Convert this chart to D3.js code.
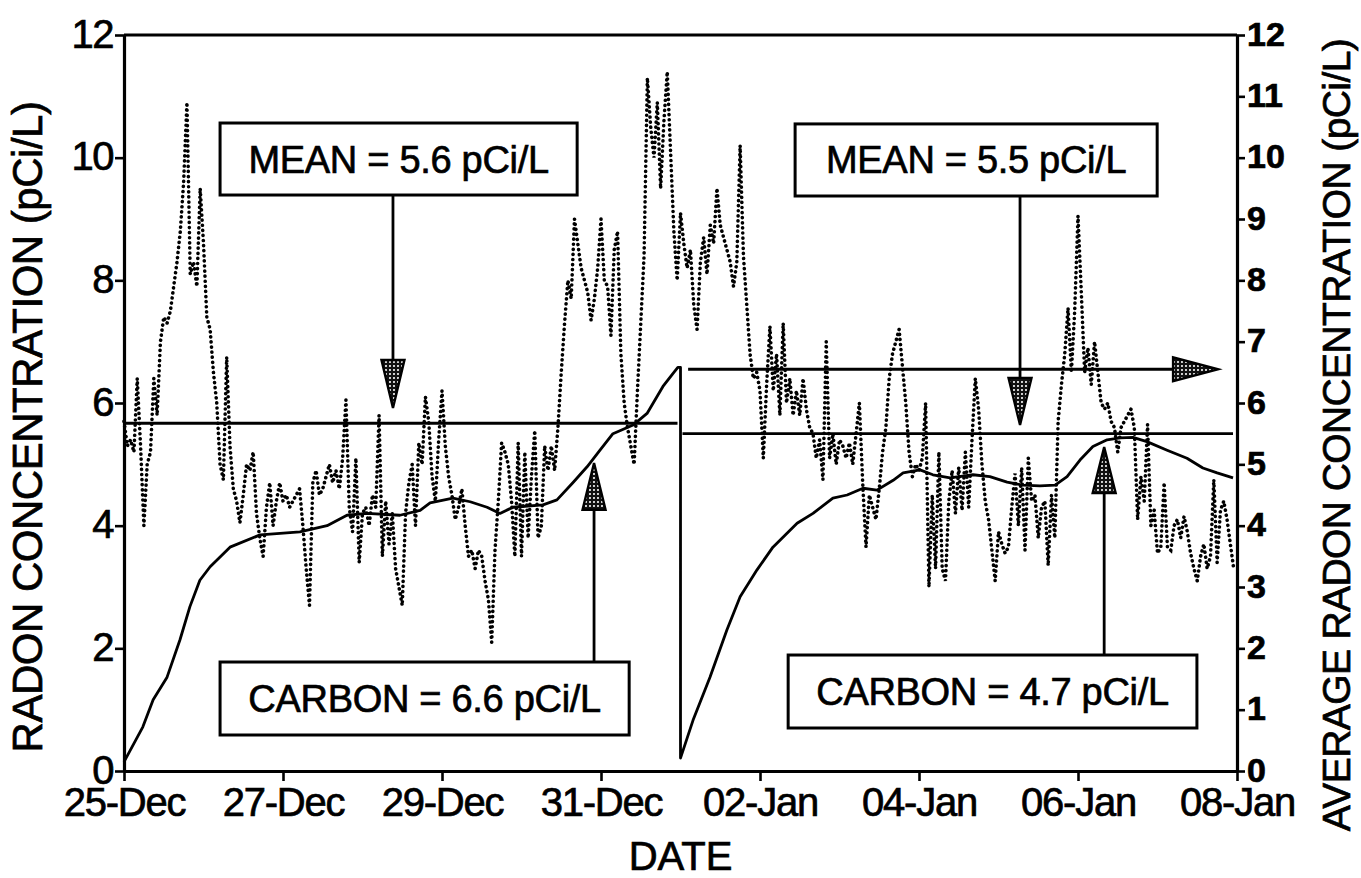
<!DOCTYPE html>
<html><head><meta charset="utf-8">
<script src="https://cdn.jsdelivr.net/npm/d3@7"></script>
<style>
body{margin:0;background:#fff;}
svg{display:block;}
text{font-family:"Liberation Sans",Arial,Helvetica,sans-serif;fill:#000;stroke:#000;stroke-width:0.7px;}
</style></head><body>
<svg id="c" width="1361" height="878"></svg>
<script>
// ---- data ----
const tickHours = [0,48,96,144,192,240,288,336];
const tickLabels = ["25-Dec","27-Dec","29-Dec","31-Dec","02-Jan","04-Jan","06-Jan","08-Jan"];
const leftTicks = [0,2,4,6,8,10,12];
const rightTicks = [0,1,2,3,4,5,6,7,8,9,10,11,12];

// hourly radon readings (pCi/L), starting 25-Dec 00:00
const radon = [
 5.7,5.3,5.4,5.2,6.4,5.3,4.0,5.0,5.2,6.4,5.8,7.0,7.4,7.3,7.5,7.9,8.3,8.8,9.6,10.9,8.1,8.3,7.9,9.5,
 8.6,7.4,7.2,6.5,6.0,5.0,4.75,6.75,5.3,4.6,4.4,4.05,4.5,5.0,4.9,5.2,4.2,3.8,3.5,4.3,4.7,4.0,4.4,4.7,
 4.4,4.5,4.3,4.4,4.5,4.6,4.0,3.3,2.7,4.7,4.9,4.5,4.6,4.8,5.0,4.7,4.9,4.6,5.1,6.05,4.3,3.9,5.1,3.4,
 4.2,4.3,4.0,4.5,4.3,5.8,3.5,4.4,3.7,4.2,3.3,3.0,2.7,4.2,4.7,5.0,4.0,5.35,5.0,6.1,5.7,4.8,4.4,5.4,
 6.2,5.3,4.8,4.5,4.1,4.3,4.6,4.0,3.5,3.6,3.3,3.6,3.5,3.1,2.8,2.1,3.6,4.4,5.35,5.2,5.0,4.4,3.5,5.35,
 3.5,5.2,3.8,4.8,5.55,3.8,4.0,5.3,4.9,5.3,4.9,5.6,6.5,7.3,8.0,7.7,9.0,8.6,8.2,8.0,7.8,7.35,7.7,8.2,
 9.0,8.0,7.9,7.1,8.5,8.8,6.8,6.0,5.6,5.3,5.0,6.2,7.3,8.4,11.3,10.5,10.0,10.9,9.5,10.6,11.4,10.1,8.8,8.0,
 9.1,8.6,8.2,8.5,7.6,7.2,8.3,8.7,8.1,8.9,8.6,9.5,8.9,8.7,8.5,8.3,7.9,8.3,10.2,8.4,7.6,6.8,6.4,6.5,
 6.2,5.1,6.3,7.25,6.2,6.8,5.8,7.3,6.0,6.4,5.8,6.2,5.8,6.4,5.9,5.6,5.5,5.1,5.4,4.75,7.0,5.1,5.5,5.0,
 5.4,5.3,5.1,5.35,5.0,5.5,6.0,4.7,3.65,4.5,4.3,4.1,4.6,5.2,5.6,6.4,6.8,7.0,7.2,6.6,6.0,5.2,4.8,5.0,
 4.9,5.1,6.0,3.0,4.5,3.3,5.2,3.3,3.1,4.4,4.9,4.2,4.95,4.25,5.2,4.3,5.4,6.4,5.9,5.0,4.4,4.1,3.6,3.1,
 3.9,3.7,3.55,3.65,4.3,4.85,4.0,4.95,3.6,5.1,4.4,4.5,3.8,4.3,4.4,3.35,4.5,3.8,5.7,6.3,6.8,7.55,6.5,7.5,
 9.05,7.8,6.5,6.9,6.3,7.0,6.5,6.0,5.9,6.0,5.7,5.6,5.2,5.6,5.7,5.8,5.9,5.6,4.1,4.8,4.4,5.65,4.0,4.25,
 3.55,3.65,4.7,3.65,3.6,4.0,4.1,3.8,4.15,3.9,3.55,3.3,3.1,3.5,3.7,3.3,3.5,4.75,3.4,4.25,4.4,4.1,3.7,3.3
];

// running average (pCi/L); reset on 01-Jan
const avgHours = [0,5.7,8.8,13,16.9,19.9,22.9,26,32,41.1,53.1,61.3,67.3,73.4,83.3,89.4,92.4,99.3,104.5,109.6,113.5,117.4,126.5,130.7,135.5,139.8,143.7,147.6,153.7,157.9,162.7,165.7,167.2,168,
 168,171.8,176.9,182,186,191.1,195.9,203.2,208,214,218.3,223.1,227.3,232.2,235.2,240.3,244.2,249.4,256.3,261.4,266.6,271.4,276.5,281.1,284.7,288.6,292.5,296.8,300.7,304.6,308.8,314.9,320.9,325.7,330,334.8];
const avgValues = [0.15,0.72,1.16,1.53,2.14,2.68,3.11,3.33,3.65,3.85,3.9,4.0,4.17,4.2,4.17,4.25,4.37,4.45,4.39,4.3,4.2,4.3,4.34,4.42,4.7,4.96,5.23,5.5,5.64,5.83,6.27,6.48,6.58,6.58,
 0.21,0.83,1.53,2.3,2.84,3.28,3.65,4.04,4.2,4.45,4.5,4.61,4.58,4.74,4.86,4.91,4.83,4.78,4.83,4.8,4.71,4.66,4.65,4.66,4.8,5.07,5.29,5.4,5.43,5.44,5.37,5.23,5.1,4.94,4.86,4.78];

// period means
const meanStart = [0,168];
const meanEnd = [168,336];
const meanValue = [5.67,5.5];

// annotation labels
const noteText = ["MEAN = 5.6 pCi/L","MEAN = 5.5 pCi/L","CARBON = 6.6 pCi/L","CARBON = 4.7 pCi/L"];

// ---- layout ----
const svg = d3.select("#c");
const x = d3.scaleLinear().domain([0,336]).range([124,1237]);
const y = d3.scaleLinear().domain([0,12]).range([771,35]);
const FONT = '"Liberation Sans",Arial,Helvetica,sans-serif';

const defs = svg.append("defs");
const pat = defs.append("pattern").attr("id","stip").attr("width",4).attr("height",4).attr("patternUnits","userSpaceOnUse");
pat.append("rect").attr("width",4).attr("height",4).attr("fill","#111");
pat.append("circle").attr("cx",2).attr("cy",2).attr("r",1.05).attr("fill","#fff");

// running average
const avgPts = avgHours.map((h,i)=>[h,avgValues[i]]);
svg.append("path").datum(avgPts)
 .attr("d", d3.line().x(d=>x(d[0])).y(d=>y(d[1])))
 .attr("fill","none").attr("stroke","#000").attr("stroke-width",2.8).attr("stroke-linejoin","round");

// hourly radon (dotted)
svg.append("path").datum(radon)
 .attr("d", d3.line().x((d,i)=>x(i)).y(d=>y(d)))
 .attr("fill","none").attr("stroke","#000").attr("stroke-width",3.6)
 .attr("stroke-linecap","round").attr("stroke-dasharray","0.1 5");

// mean lines
meanValue.forEach((v,i)=>{
  svg.append("line").attr("x1",x(meanStart[i])+(i?2:0)).attr("x2",x(meanEnd[i])-(i?4:3))
   .attr("y1",y(v)).attr("y2",y(v)).attr("stroke","#000").attr("stroke-width",2.8);
});

// axes
function styleAxis(g, fs, extra){
  g.attr("font-family",null).attr("font-size",null);
  g.select(".domain").attr("stroke-width",3.2);
  g.selectAll(".tick line").attr("stroke-width",2.6);
  g.selectAll(".tick text").attr("font-family",FONT).attr("font-size",fs).attr("fill","#000");
  if(extra) extra(g.selectAll(".tick text"));
}
svg.append("line").attr("x1",x(0)).attr("x2",x(336)).attr("y1",y(12)).attr("y2",y(12))
  .attr("stroke","#000").attr("stroke-width",3.2);

const gx = svg.append("g").attr("transform",`translate(0,${y(0)})`)
 .call(d3.axisBottom(x).tickValues(tickHours).tickFormat((d,i)=>tickLabels[i]).tickSize(10).tickSizeOuter(0).tickPadding(7));
styleAxis(gx, 40, t=>t.attr("letter-spacing",-1.2));

const gl = svg.append("g").attr("transform",`translate(${x(0)},0)`)
 .call(d3.axisLeft(y).tickValues(leftTicks).tickFormat(d3.format("d")).tickSize(9).tickSizeOuter(0).tickPadding(2));
styleAxis(gl, 40, t=>t.attr("letter-spacing",-1.5).attr("dy","0.3em"));

const gr = svg.append("g").attr("transform",`translate(${x(336)},0)`)
 .call(d3.axisRight(y).tickValues(rightTicks).tickFormat(d3.format("d")).tickSize(8).tickSizeOuter(0).tickPadding(2));
styleAxis(gr, 34, t=>t.attr("font-weight","bold").attr("dy","0.3em"));

// axis titles
svg.append("text").attr("transform",`translate(42,${(y(0)+y(12))/2+24}) rotate(-90)`)
 .attr("text-anchor","middle").attr("font-size",42).attr("letter-spacing",-0.5).text("RADON CONCENTRATION (pCi/L)");
svg.append("text").attr("transform",`translate(1350,${(y(0)+y(12))/2+32}) rotate(-90)`)
 .attr("text-anchor","middle").attr("font-size",39).attr("letter-spacing",-0.6).text("AVERAGE RADON CONCENTRATION (pCi/L)");
svg.append("text").attr("x",(x(0)+x(336))/2-0).attr("y",870).attr("text-anchor","middle")
 .attr("font-size",40).text("DATE");

// annotations: boxes in data coordinates (hours, pCi/L)
const boxX0 = [29.0,202.6,29.0,200.5];
const boxX1 = [136.8,311.9,152.5,323.9];
const boxTop = [10.565,10.55,1.777,1.891];
const boxBot = [9.391,9.375,0.587,0.701];
const arrowX = [81.2,270.5,141.9,295.9];
const arrowTip = [5.92,5.64,5.02,5.28];
const arrowBase = [6.70,6.41,4.26,4.53];

noteText.forEach((t,i)=>{
  const down = arrowTip[i] < boxBot[i];
  const ax = x(arrowX[i]);
  const startY = down ? y(boxBot[i]) : y(boxTop[i]);
  svg.append("line").attr("x1",ax).attr("x2",ax).attr("y1",startY).attr("y2",y(arrowBase[i]))
    .attr("stroke","#000").attr("stroke-width",2.8);
  const by = y(arrowBase[i]), ty = y(arrowTip[i]);
  svg.append("path").attr("d",`M${ax-11.5},${by}L${ax+11.5},${by}L${ax},${ty}Z`)
    .attr("fill","url(#stip)").attr("stroke","#000").attr("stroke-width",2.4).attr("stroke-linejoin","miter");
  svg.append("rect").attr("x",x(boxX0[i])).attr("y",y(boxTop[i]))
    .attr("width",x(boxX1[i])-x(boxX0[i])).attr("height",y(boxBot[i])-y(boxTop[i]))
    .attr("fill","#fff").attr("stroke","#000").attr("stroke-width",3);
  svg.append("text").attr("x",(x(boxX0[i])+x(boxX1[i]))/2).attr("y",(y(boxTop[i])+y(boxBot[i]))/2+13.5)
    .attr("text-anchor","middle").attr("font-size",38).attr("letter-spacing",-0.3).text(t);
});

// horizontal arrow toward right axis (average scale)
const hArrowY = 6.55, hArrowStart = 170.3, hArrowBase = 316.7, hArrowTip = 330.3;
svg.append("line").attr("x1",x(hArrowStart)).attr("x2",x(hArrowBase)).attr("y1",y(hArrowY)).attr("y2",y(hArrowY))
  .attr("stroke","#000").attr("stroke-width",2.8);
svg.append("path").attr("d",`M${x(hArrowBase)},${y(hArrowY)-12}L${x(hArrowBase)},${y(hArrowY)+12}L${x(hArrowTip)},${y(hArrowY)}Z`)
  .attr("fill","url(#stip)").attr("stroke","#000").attr("stroke-width",2.4);
</script>
</body></html>
